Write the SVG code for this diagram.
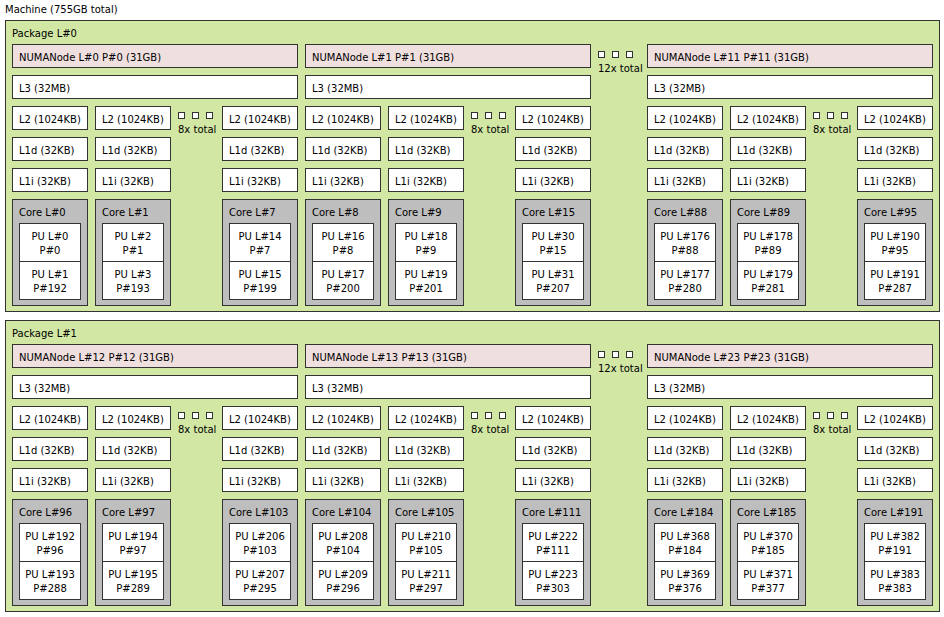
<svg xmlns="http://www.w3.org/2000/svg" width="944" height="617" viewBox="0 0 944 617">
<style>
text{font-family:"DejaVu Sans",sans-serif;font-size:10px;fill:#000}
.c{text-anchor:middle}
rect{stroke:#333;stroke-width:1}
.bg{fill:#fff;stroke:none}
.pk{fill:#d2e7a4}.nu{fill:#efdfde}.w{fill:#fff}.co{fill:#bebebe}.d{fill:#fff}
</style>
<rect class="bg" width="944" height="617"/>
<text x="5" y="13">Machine (755GB total)</text>
<g id="pkg0">
<rect class="pk" x="5.5" y="20.5" width="934" height="291"/>
<text x="12" y="37">Package L#0</text>
<g id="p0n0"><rect class="nu" x="12.5" y="44.5" width="285" height="23"/><text x="19" y="61">NUMANode L#0 P#0 (31GB)</text>
<rect class="w" x="12.5" y="75.5" width="285" height="23"/><text x="19" y="92">L3 (32MB)</text></g>
<g id="p0n1"><rect class="nu" x="305.5" y="44.5" width="285" height="23"/><text x="312" y="61">NUMANode L#1 P#1 (31GB)</text>
<rect class="w" x="305.5" y="75.5" width="285" height="23"/><text x="312" y="92">L3 (32MB)</text></g>
<g id="p0n11"><rect class="nu" x="647.5" y="44.5" width="285" height="23"/><text x="654" y="61">NUMANode L#11 P#11 (31GB)</text>
<rect class="w" x="647.5" y="75.5" width="285" height="23"/><text x="654" y="92">L3 (32MB)</text></g>
<g id="p0dots"><rect class="d" x="598.5" y="51.5" width="6" height="6"/><rect class="d" x="612.5" y="51.5" width="6" height="6"/><rect class="d" x="626.5" y="51.5" width="6" height="6"/><text x="598" y="72">12x total</text></g>
</g>
<g id="pkg1">
<rect class="pk" x="5.5" y="320.5" width="934" height="291"/>
<text x="12" y="337">Package L#1</text>
<g id="p1n12"><rect class="nu" x="12.5" y="344.5" width="285" height="23"/><text x="19" y="361">NUMANode L#12 P#12 (31GB)</text>
<rect class="w" x="12.5" y="375.5" width="285" height="23"/><text x="19" y="392">L3 (32MB)</text></g>
<g id="p1n13"><rect class="nu" x="305.5" y="344.5" width="285" height="23"/><text x="312" y="361">NUMANode L#13 P#13 (31GB)</text>
<rect class="w" x="305.5" y="375.5" width="285" height="23"/><text x="312" y="392">L3 (32MB)</text></g>
<g id="p1n23"><rect class="nu" x="647.5" y="344.5" width="285" height="23"/><text x="654" y="361">NUMANode L#23 P#23 (31GB)</text>
<rect class="w" x="647.5" y="375.5" width="285" height="23"/><text x="654" y="392">L3 (32MB)</text></g>
<g id="p1dots"><rect class="d" x="598.5" y="351.5" width="6" height="6"/><rect class="d" x="612.5" y="351.5" width="6" height="6"/><rect class="d" x="626.5" y="351.5" width="6" height="6"/><text x="598" y="372">12x total</text></g>
</g>
<defs>
<g id="caches"><rect class="w" x="0.5" y="0.5" width="75" height="23"/><text x="7" y="17">L2 (1024KB)</text>
<rect class="w" x="0.5" y="31.5" width="75" height="23"/><text x="7" y="48">L1d (32KB)</text>
<rect class="w" x="0.5" y="62.5" width="75" height="23"/><text x="7" y="79">L1i (32KB)</text>
<rect class="co" x="0.5" y="93.5" width="75" height="106"/>
<rect class="w" x="7.5" y="117.5" width="61" height="38"/><rect class="w" x="7.5" y="155.5" width="61" height="38"/></g>
<g id="dots8"><rect class="d" x="0.5" y="0.5" width="6" height="6"/><rect class="d" x="14.5" y="0.5" width="6" height="6"/><rect class="d" x="28.5" y="0.5" width="6" height="6"/><text x="0" y="21">8x total</text></g>
</defs>
<g id="cores">
<g id="c0" transform="translate(12,106)"><use href="#caches"/><text x="7" y="110">Core L#0</text><text class="c" x="38" y="134">PU L#0</text><text class="c" x="38" y="148">P#0</text><text class="c" x="38" y="172">PU L#1</text><text class="c" x="38" y="186">P#192</text></g>
<g id="c1" transform="translate(95,106)"><use href="#caches"/><text x="7" y="110">Core L#1</text><text class="c" x="38" y="134">PU L#2</text><text class="c" x="38" y="148">P#1</text><text class="c" x="38" y="172">PU L#3</text><text class="c" x="38" y="186">P#193</text></g>
<use href="#dots8" transform="translate(178,112)"/>
<g id="c7" transform="translate(222,106)"><use href="#caches"/><text x="7" y="110">Core L#7</text><text class="c" x="38" y="134">PU L#14</text><text class="c" x="38" y="148">P#7</text><text class="c" x="38" y="172">PU L#15</text><text class="c" x="38" y="186">P#199</text></g>
<g id="c8" transform="translate(305,106)"><use href="#caches"/><text x="7" y="110">Core L#8</text><text class="c" x="38" y="134">PU L#16</text><text class="c" x="38" y="148">P#8</text><text class="c" x="38" y="172">PU L#17</text><text class="c" x="38" y="186">P#200</text></g>
<g id="c9" transform="translate(388,106)"><use href="#caches"/><text x="7" y="110">Core L#9</text><text class="c" x="38" y="134">PU L#18</text><text class="c" x="38" y="148">P#9</text><text class="c" x="38" y="172">PU L#19</text><text class="c" x="38" y="186">P#201</text></g>
<use href="#dots8" transform="translate(471,112)"/>
<g id="c15" transform="translate(515,106)"><use href="#caches"/><text x="7" y="110">Core L#15</text><text class="c" x="38" y="134">PU L#30</text><text class="c" x="38" y="148">P#15</text><text class="c" x="38" y="172">PU L#31</text><text class="c" x="38" y="186">P#207</text></g>
<g id="c88" transform="translate(647,106)"><use href="#caches"/><text x="7" y="110">Core L#88</text><text class="c" x="38" y="134">PU L#176</text><text class="c" x="38" y="148">P#88</text><text class="c" x="38" y="172">PU L#177</text><text class="c" x="38" y="186">P#280</text></g>
<g id="c89" transform="translate(730,106)"><use href="#caches"/><text x="7" y="110">Core L#89</text><text class="c" x="38" y="134">PU L#178</text><text class="c" x="38" y="148">P#89</text><text class="c" x="38" y="172">PU L#179</text><text class="c" x="38" y="186">P#281</text></g>
<use href="#dots8" transform="translate(813,112)"/>
<g id="c95" transform="translate(857,106)"><use href="#caches"/><text x="7" y="110">Core L#95</text><text class="c" x="38" y="134">PU L#190</text><text class="c" x="38" y="148">P#95</text><text class="c" x="38" y="172">PU L#191</text><text class="c" x="38" y="186">P#287</text></g>

<g id="c96" transform="translate(12,406)"><use href="#caches"/><text x="7" y="110">Core L#96</text><text class="c" x="38" y="134">PU L#192</text><text class="c" x="38" y="148">P#96</text><text class="c" x="38" y="172">PU L#193</text><text class="c" x="38" y="186">P#288</text></g>
<g id="c97" transform="translate(95,406)"><use href="#caches"/><text x="7" y="110">Core L#97</text><text class="c" x="38" y="134">PU L#194</text><text class="c" x="38" y="148">P#97</text><text class="c" x="38" y="172">PU L#195</text><text class="c" x="38" y="186">P#289</text></g>
<use href="#dots8" transform="translate(178,412)"/>
<g id="c103" transform="translate(222,406)"><use href="#caches"/><text x="7" y="110">Core L#103</text><text class="c" x="38" y="134">PU L#206</text><text class="c" x="38" y="148">P#103</text><text class="c" x="38" y="172">PU L#207</text><text class="c" x="38" y="186">P#295</text></g>
<g id="c104" transform="translate(305,406)"><use href="#caches"/><text x="7" y="110">Core L#104</text><text class="c" x="38" y="134">PU L#208</text><text class="c" x="38" y="148">P#104</text><text class="c" x="38" y="172">PU L#209</text><text class="c" x="38" y="186">P#296</text></g>
<g id="c105" transform="translate(388,406)"><use href="#caches"/><text x="7" y="110">Core L#105</text><text class="c" x="38" y="134">PU L#210</text><text class="c" x="38" y="148">P#105</text><text class="c" x="38" y="172">PU L#211</text><text class="c" x="38" y="186">P#297</text></g>
<use href="#dots8" transform="translate(471,412)"/>
<g id="c111" transform="translate(515,406)"><use href="#caches"/><text x="7" y="110">Core L#111</text><text class="c" x="38" y="134">PU L#222</text><text class="c" x="38" y="148">P#111</text><text class="c" x="38" y="172">PU L#223</text><text class="c" x="38" y="186">P#303</text></g>
<g id="c184" transform="translate(647,406)"><use href="#caches"/><text x="7" y="110">Core L#184</text><text class="c" x="38" y="134">PU L#368</text><text class="c" x="38" y="148">P#184</text><text class="c" x="38" y="172">PU L#369</text><text class="c" x="38" y="186">P#376</text></g>
<g id="c185" transform="translate(730,406)"><use href="#caches"/><text x="7" y="110">Core L#185</text><text class="c" x="38" y="134">PU L#370</text><text class="c" x="38" y="148">P#185</text><text class="c" x="38" y="172">PU L#371</text><text class="c" x="38" y="186">P#377</text></g>
<use href="#dots8" transform="translate(813,412)"/>
<g id="c191" transform="translate(857,406)"><use href="#caches"/><text x="7" y="110">Core L#191</text><text class="c" x="38" y="134">PU L#382</text><text class="c" x="38" y="148">P#191</text><text class="c" x="38" y="172">PU L#383</text><text class="c" x="38" y="186">P#383</text></g>
</g>
<g id="connectors"/>
</svg>
